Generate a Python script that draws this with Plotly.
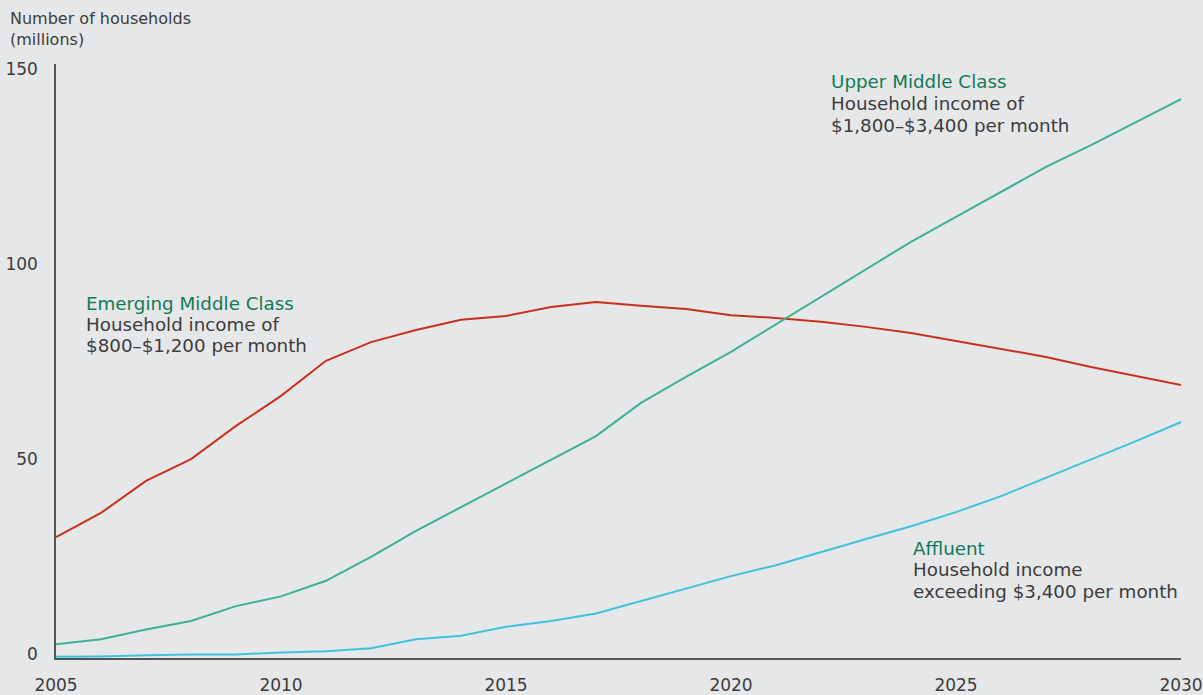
import plotly.graph_objects as go

years = list(range(2005, 2031))
emerging = [31.0, 37.2, 45.4, 51.0, 59.5, 67.2, 76.2, 81.0, 84.1, 86.7, 87.7, 90.0, 91.3,
            90.3, 89.5, 87.9, 87.2, 86.2, 84.9, 83.3, 81.3, 79.2, 77.2, 74.6, 72.3, 70.0]
upper_middle = [3.5, 4.8, 7.3, 9.5, 13.3, 15.8, 19.8, 25.9, 32.6, 38.7, 44.9, 50.8, 56.9,
                65.4, 72.1, 78.5, 85.6, 92.6, 99.7, 106.7, 113.1, 119.5, 125.9, 131.5, 137.4, 143.3]
affluent = [0.3, 0.4, 0.7, 0.9, 0.9, 1.4, 1.7, 2.5, 4.8, 5.7, 8.0, 9.5, 11.4,
            14.6, 17.7, 21.0, 23.8, 27.2, 30.5, 33.8, 37.4, 41.5, 46.2, 50.8, 55.6, 60.5]

x_ticks = [2005, 2010, 2015, 2020, 2025, 2030]
y_ticks = [0, 50, 100, 150]

labels = [
    ("Upper Middle Class", ["Household income of", "$1,800–$3,400 per month"]),
    ("Emerging Middle Class", ["Household income of", "$800–$1,200 per month"]),
    ("Affluent", ["Household income", "exceeding $3,400 per month"]),
]
y_title = ["Number of households", "(millions)"]

RED = "#c9311f"
TEAL = "#3db28f"
BLUE = "#3ec3dc"
GREEN_TXT = "#137a56"
TXT = "#3c3c3c"
BG = "#e6e7e9"
FONT = "DejaVu Sans"

W, H = 1203, 695
L, R, T, B = 56, 22, 64, 37
PW, PH = W - L - R, H - T - B

def px(x):
    return (x - L) / PW

def py(y):
    return (H - B - y) / PH

fig = go.Figure()
fig.add_trace(go.Scatter(x=years, y=emerging, mode="lines", line=dict(color=RED, width=2), name="Emerging Middle Class"))
fig.add_trace(go.Scatter(x=years, y=upper_middle, mode="lines", line=dict(color=TEAL, width=2), name="Upper Middle Class"))
fig.add_trace(go.Scatter(x=years, y=affluent, mode="lines", line=dict(color=BLUE, width=2), name="Affluent"))

def text_line(x, y, s, color, size):
    fig.add_annotation(
        x=px(x), y=py(y), xref="paper", yref="paper", xanchor="left", yanchor="middle",
        showarrow=False, text=s, borderpad=0,
        font=dict(family=FONT, size=size, color=color),
    )

label_pos = [(830, [82, 103.5, 125]), (85, [303, 324.5, 346]), (912, [548, 569.5, 591])]
for (title, body), (x, ys) in zip(labels, label_pos):
    text_line(x, ys[0], title, GREEN_TXT, 18.3)
    text_line(x, ys[1], body[0], TXT, 18.3)
    text_line(x, ys[2], body[1], TXT, 18.3)

text_line(9, 18, y_title[0], TXT, 16)
text_line(9, 40, y_title[1], TXT, 16)

fig.update_layout(
    width=W, height=H,
    margin=dict(l=L, r=R, t=T, b=B, autoexpand=False),
    paper_bgcolor=BG, plot_bgcolor=BG,
    showlegend=False,
    font=dict(family=FONT, size=16, color=TXT),
    xaxis=dict(range=[2005, 2030], tickvals=x_ticks, ticktext=[str(t) for t in x_ticks],
               showgrid=False, zeroline=False, showline=True, linecolor="#555555", linewidth=1.5,
               automargin=False,
               ticks="", ticklabelstandoff=11, tickfont=dict(size=17, color=TXT)),
    yaxis=dict(range=[0, 152.3], tickvals=y_ticks, ticktext=[str(t) for t in y_ticks],
               showgrid=False, zeroline=False, showline=True, linecolor="#555555", linewidth=1.5,
               automargin=False, ticklabelshift=-4,
               ticks="", ticklabelstandoff=13, tickfont=dict(size=17, color=TXT)),
)

fig.write_html(
    "out.html",
    config={"displayModeBar": False},
    post_script=f"document.body.style.margin='0';document.body.style.background='{BG}';document.body.style.overflow='hidden';",
)
